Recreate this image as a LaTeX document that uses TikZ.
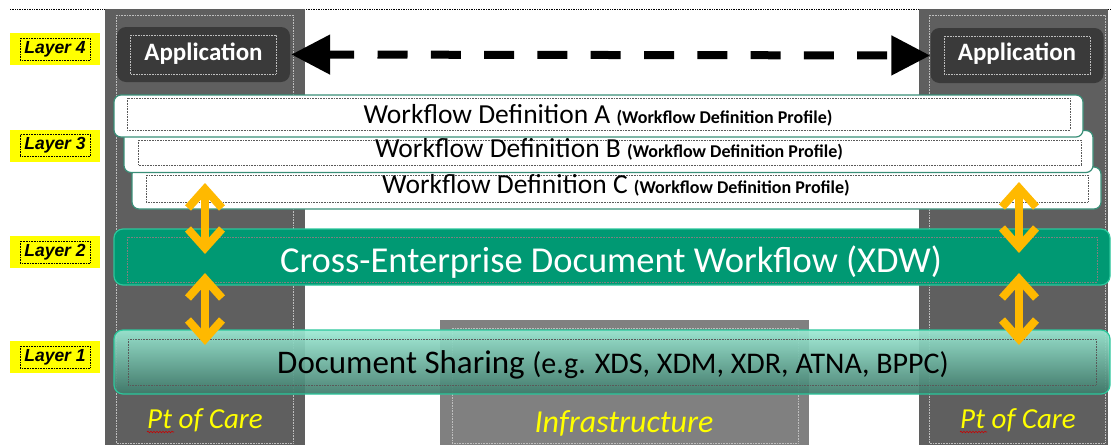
\documentclass[tikz,border=0pt]{standalone}
\usepackage{fontspec}
\setmainfont{Carlito}
\newfontfamily\arialfont{Liberation Sans}
\usetikzlibrary{arrows.meta,decorations.pathmorphing}
\newcommand{\profilefont}{\bfseries\fontsize{18}{18}\selectfont}
\definecolor{colgray}{HTML}{5F5F5F}
\definecolor{appgray}{HTML}{3A3A3A}
\definecolor{wfborder}{HTML}{3A8F78}
\definecolor{xdwfill}{HTML}{009973}
\definecolor{xdwborder}{HTML}{2CC79C}
\definecolor{doctop}{HTML}{9CEAD4}
\definecolor{docbot}{HTML}{3E7A6A}
\definecolor{infragray}{HTML}{808080}
\definecolor{ylw}{HTML}{FFFF00}
\definecolor{orng}{HTML}{FFB900}
\begin{document}
\begin{tikzpicture}[x=1pt,y=-1pt,
  column/.style={fill=colgray},
  innerdots/.style={densely dotted,line width=0.6pt,draw=white!75!black},
  boxdots/.style={densely dotted,line width=0.6pt,draw=black!65},
  layerlabel/.style={fill=ylw,minimum width=90pt,minimum height=32pt,inner sep=0pt,font=\arialfont\bfseries\itshape\fontsize{17.5}{17.5}\selectfont},
  appbox/.style={fill=appgray,rounded corners=9pt,minimum width=173pt,minimum height=55pt,inner sep=0pt},
  apptext/.style={anchor=base,inner sep=0pt,text=white,font=\bfseries\fontsize{25}{25}\selectfont},
  wfbox/.style={fill=white,draw=wfborder,line width=1.2pt,rounded corners=7pt,minimum width=969pt,minimum height=42pt,inner sep=0pt},
  wftext/.style={anchor=base,inner sep=0pt,font=\fontsize{27.5}{27.5}\selectfont},
  careText/.style={anchor=base,inner sep=0pt,text=ylw,font=\itshape\fontsize{29}{29}\selectfont},
  squiggle/.style={draw=red!80!black,line width=0.6pt,decorate,decoration={snake,amplitude=0.8pt,segment length=3pt}},
  updown/.style={draw=orng,line width=8pt,{Straight Barb[length=19pt,width=34pt,line width=8pt]}-{Straight Barb[length=19pt,width=34pt,line width=8pt]}},
]
\useasboundingbox (0,0) rectangle (1111,445);
\fill[white] (0,0) rectangle (1111,445);

% top dotted line
\draw[densely dotted,line width=0.7pt] (10,9) -- (1111,9);

% columns
\fill[column] (105,9) rectangle (305,445);
\fill[column] (919,9) rectangle (1108,445);
\draw[innerdots] (116,15) rectangle (293,443);
\draw[innerdots] (929,15) rectangle (1105,443);

% layer labels
\node[layerlabel] (L4) at (55,49) {Layer 4};
\node[layerlabel] (L3) at (55,145.5) {Layer 3};
\node[layerlabel] (L2) at (55,252) {Layer 2};
\node[layerlabel] (L1) at (55,357) {Layer 1};
\foreach \yy in {49,145.5,252,357}{\draw[densely dotted,line width=0.6pt] (20,\yy-11) rectangle (90,\yy+11);}

% applications
\node[appbox] (appL) at (203.5,54.5) {};
\node[appbox] (appR) at (1017,55.5) {};
\node[apptext] (appLt) at (203.5,60) {Application};
\node[apptext] (appRt) at (1017,60) {Application};
\draw[innerdots] (130,35) rectangle (276,74);
\draw[innerdots] (944,36) rectangle (1090,74);

\draw[line width=8pt,dash pattern=on 30pt off 23.3pt,dash phase=4pt,
  {Triangle[length=39pt,width=38pt]}-{Triangle[length=39pt,width=38pt]}]
  ([xshift=1pt]appL.east) -- ([xshift=0pt]appR.west);

% infrastructure
\node[fill=infragray,minimum width=369pt,minimum height=125pt,inner sep=0pt] (infra) at (624.5,382.5) {};
\draw[innerdots] (452,328) rectangle (798,443);
\node[careText,font=\itshape\fontsize{32}{32}\selectfont] (infraT) at (624,432) {Infrastructure};

% workflow definitions
\node[wfbox] (wfC) at (616.5,188) {};
\draw[boxdots] (146,175) rectangle (1088,202);
\node[wftext] (wfCt) at (616,193) {Workflow Definition C {\profilefont(Workflow Definition Profile)}};
\node[wfbox] (wfB) at (608.5,151.5) {};
\draw[boxdots] (138,140) rectangle (1081,165);
\node[wftext] (wfBt) at (609,157) {Workflow Definition B {\profilefont(Workflow Definition Profile)}};
\node[wfbox] (wfA) at (598.5,116) {};
\draw[boxdots] (127,98) rectangle (1070,130);
\node[wftext] (wfAt) at (598,123) {Workflow Definition A {\profilefont(Workflow Definition Profile)}};

% XDW
\node[fill=xdwfill,draw=xdwborder,line width=1.2pt,rounded corners=9pt,minimum width=996pt,minimum height=56pt,inner sep=0pt] (xdw) at (612,257) {};
\draw[boxdots,draw=black!50] (127,237) rectangle (1097,282);
\node[anchor=base,inner sep=0pt,text=white,font=\fontsize{36.5}{36.5}\selectfont] (xdwt) at (611,272) {Cross-Enterprise Document Workflow (XDW)};

% document sharing
\node[top color=doctop,bottom color=docbot,draw=xdwborder,line width=1.2pt,rounded corners=9pt,fill opacity=0.92,draw opacity=1,minimum width=996pt,minimum height=64pt,inner sep=0pt] (doc) at (612,362) {};
\draw[boxdots] (128,339) rectangle (1096,385);
\node[anchor=base,inner sep=0pt,font=\fontsize{33}{33}\selectfont] (doct) at (613,373) {Document Sharing {\fontsize{30}{30}\selectfont (e.g. XDS, XDM, XDR, ATNA, BPPC)}};

% pt of care
\node[careText] (careL) at (205,428) {Pt of Care};
\node[careText] (careR) at (1018,428) {Pt of Care};
\draw[squiggle] ([yshift=-4pt]careL.base west) -- ++(27,0);
\draw[squiggle] ([yshift=-4pt]careR.base west) -- ++(27,0);

% orange arrows
\coordinate (aL1) at (205,183); \coordinate (aL2) at (205,254);
\coordinate (aL3) at (205,273); \coordinate (aL4) at (205,345);
\coordinate (aR1) at (1019,182); \coordinate (aR2) at (1019,253);
\coordinate (aR3) at (1019,273); \coordinate (aR4) at (1019,345);
\draw[updown] (aL1) -- (aL2);
\draw[updown] (aL3) -- (aL4);
\draw[updown] (aR1) -- (aR2);
\draw[updown] (aR3) -- (aR4);
\end{tikzpicture}
\end{document}
